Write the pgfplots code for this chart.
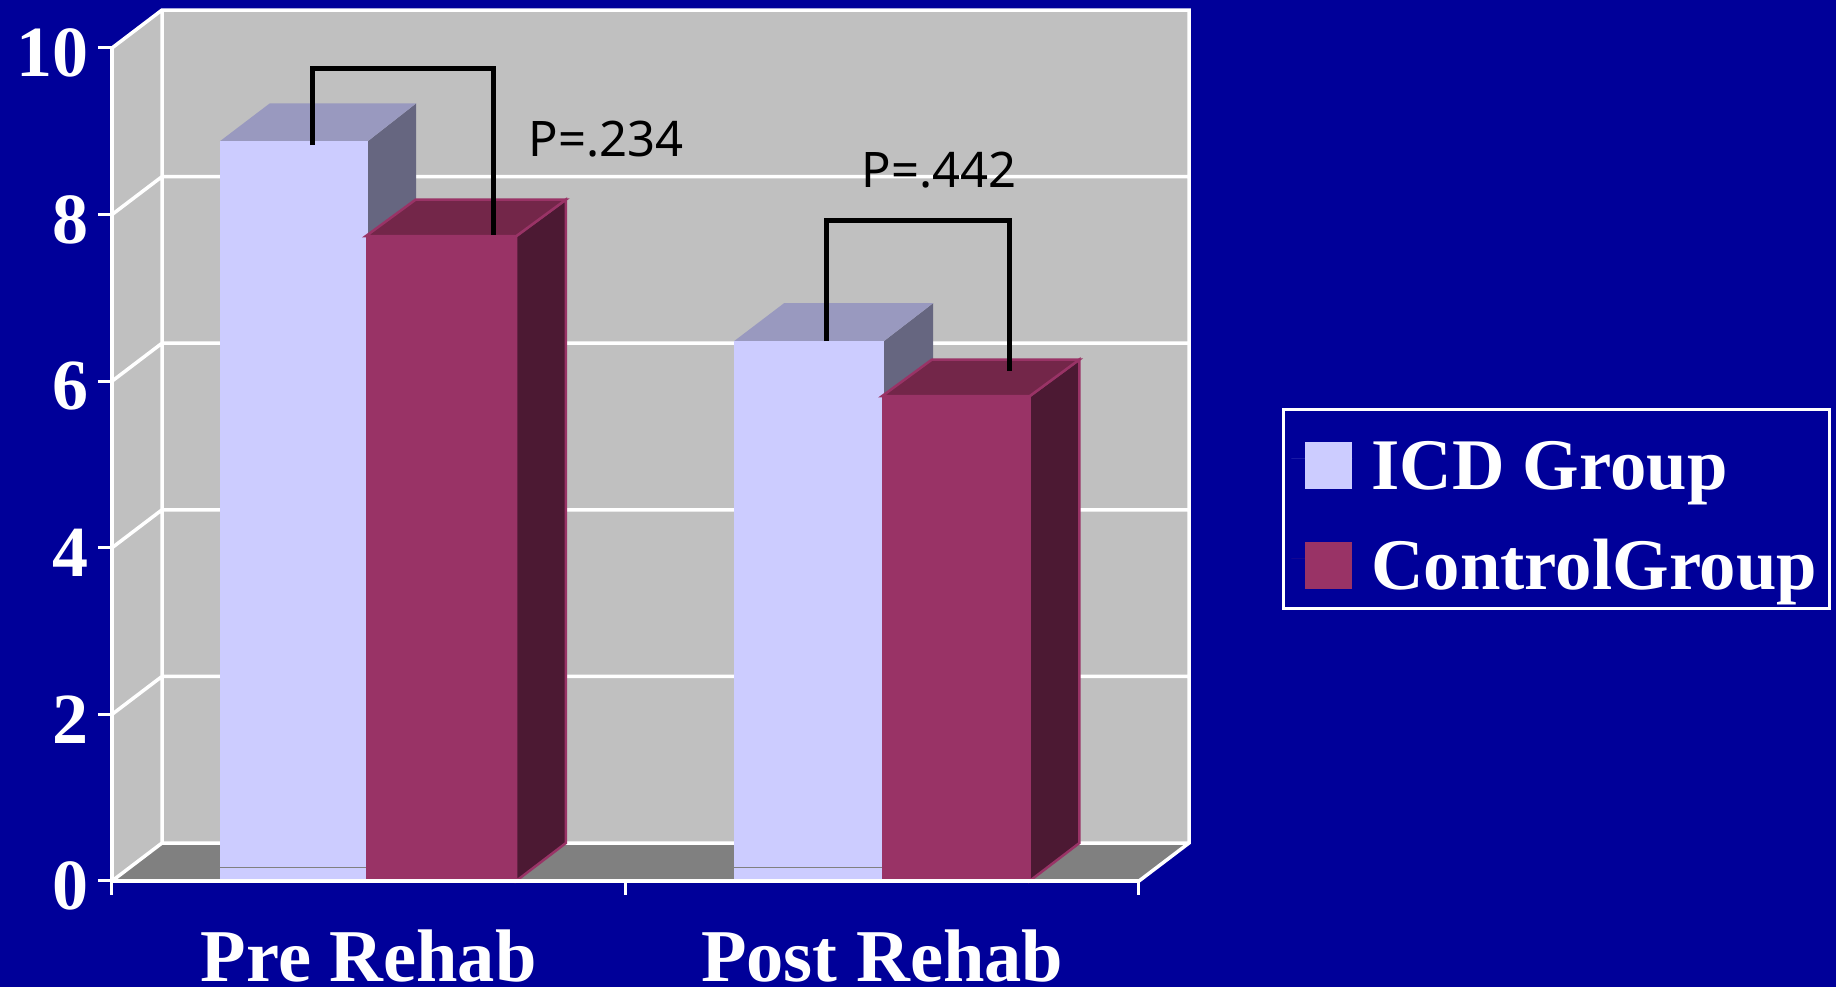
\documentclass[border=0pt]{standalone}
\usepackage{fontspec}
\setmainfont{Liberation Serif}
\newfontfamily\pfont{Noto Sans}
\usepackage{pgfplots}
\pgfplotsset{compat=1.18}

\definecolor{bg}{HTML}{000099}
\definecolor{wall}{HTML}{C0C0C0}
\definecolor{floorc}{HTML}{808080}
\definecolor{icd}{HTML}{CCCCFF}
\definecolor{icdtop}{HTML}{9999BF}
\definecolor{icdside}{HTML}{666680}
\definecolor{ctrl}{HTML}{993366}
\definecolor{ctrltop}{HTML}{732649}
\definecolor{ctrlside}{HTML}{4C1933}

\begin{document}
\begin{tikzpicture}
\path[use as bounding box, fill=bg] (-112pt,-106pt) rectangle (1724pt,881pt);
\begin{axis}[
  at={(0pt,0pt)}, anchor=origin,
  scale only axis,
  width=1027pt, height=833pt,
  xmin=0, xmax=2, ymin=0, ymax=10,
  clip=false,
  axis on top,
  axis lines=left,
  axis line style={white, line width=3.5pt, -},
  xtick={0.5,1.5},
  xticklabels={Pre Rehab,Post Rehab},
  minor xtick={0,1,2},
  ytick={0,2,4,6,8,10},
  tick align=outside,
  major tick length=14pt,
  minor tick length=14pt,
  tick style={white, line width=3pt},
  major x tick style={draw=none},
  xticklabel style={anchor=base, inner sep=0pt, yshift=-87pt, text=white,
    font=\fontsize{74.5}{75}\selectfont\bfseries},
  yticklabel style={anchor=east, inner sep=0pt, xshift=-9pt, yshift=-5pt, text=white,
    font=\fontsize{72}{72}\selectfont\bfseries,
    /pgf/number format/assume math mode=true},
  legend cell align=left,
  legend image code/.code={\path (0pt,0pt) -- (61pt,0pt); \fill[#1] (14pt,-30pt) rectangle (61pt,17pt);},
  legend style={
    at={(1.1392,0.5678)}, anchor=north west,
    draw=white, line width=3pt, fill=bg, text=white,
    font=\fontsize{72.7}{73}\selectfont\bfseries,
    column sep=15pt, row sep=17.4pt, inner xsep=8pt, inner ysep=8pt,
    nodes={inner sep=4pt, text height=67.6pt, text depth=7pt},
  },
]
% walls and floor
\addplot[fill=wall, draw=none, forget plot] coordinates {(0.0974,0.456)(2.0974,0.456)(2.0974,10.456)(0.0974,10.456)} -- cycle;
\addplot[fill=wall, draw=none, forget plot] coordinates {(0,0)(0.0974,0.456)(0.0974,10.456)(0,10)} -- cycle;
\addplot[fill=floorc, draw=none, forget plot] coordinates {(0,0)(2,0)(2.0974,0.456)(0.0974,0.456)} -- cycle;
% grid lines
\addplot[white, line width=3.5pt, forget plot, unbounded coords=jump] coordinates {
  (0,2)(0.0974,2.456)(2.0974,2.456) (nan,nan)
  (0,4)(0.0974,4.456)(2.0974,4.456) (nan,nan)
  (0,6)(0.0974,6.456)(2.0974,6.456) (nan,nan)
  (0,8)(0.0974,8.456)(2.0974,8.456) (nan,nan)
  (0,10)(0.0974,10.456)(2.0974,10.456)(2.0974,0.456)(2,0) (nan,nan)
  (0,0)(0.0974,0.456)(0.0974,10.456) (nan,nan)
  (0.0974,0.456)(2.0974,0.456)
};
% Pre Rehab, ICD
\addplot[fill=icdside, draw=none, forget plot] coordinates {(0.498,0)(0.5925,0.456)(0.5925,9.336)(0.498,8.88)} -- cycle;
\addplot[fill=icdtop, draw=none, forget plot] coordinates {(0.21,8.88)(0.498,8.88)(0.5925,9.336)(0.3074,9.336)} -- cycle;
\addplot[fill=icd, draw=none] coordinates {(0.21,0)(0.498,0)(0.498,8.88)(0.21,8.88)} -- cycle;
\addlegendentry{ICD Group}
\addplot[floorc, line width=1pt, forget plot] coordinates {(0.21,0.168)(0.498,0.168)};
% Pre Rehab, control
\addplot[fill=ctrlside, draw=ctrl, line width=2.5pt, forget plot] coordinates {(0.787,0)(0.884,0.456)(0.884,8.18)(0.787,7.74)} -- cycle;
\addplot[fill=ctrltop, draw=ctrl, line width=2.5pt, forget plot] coordinates {(0.494,7.74)(0.787,7.74)(0.884,8.18)(0.5914,8.18)} -- cycle;
\addplot[fill=ctrl, draw=none] coordinates {(0.494,0)(0.787,0)(0.787,7.74)(0.494,7.74)} -- cycle;
\addlegendentry{ControlGroup}
% Post Rehab, ICD
\addplot[fill=icdside, draw=none, forget plot] coordinates {(1.503,0)(1.599,0.456)(1.599,6.936)(1.503,6.48)} -- cycle;
\addplot[fill=icdtop, draw=none, forget plot] coordinates {(1.2113,6.48)(1.503,6.48)(1.599,6.936)(1.3087,6.936)} -- cycle;
\addplot[fill=icd, draw=none, forget plot] coordinates {(1.2113,0)(1.503,0)(1.503,6.48)(1.2113,6.48)} -- cycle;
\addplot[floorc, line width=1pt, forget plot] coordinates {(1.2113,0.168)(1.503,0.168)};
% Post Rehab, control
\addplot[fill=ctrlside, draw=ctrl, line width=2.5pt, forget plot] coordinates {(1.787,0)(1.884,0.456)(1.884,6.26)(1.787,5.82)} -- cycle;
\addplot[fill=ctrltop, draw=ctrl, line width=2.5pt, forget plot] coordinates {(1.4995,5.82)(1.787,5.82)(1.884,6.26)(1.5969,6.26)} -- cycle;
\addplot[fill=ctrl, draw=none, forget plot] coordinates {(1.4995,0)(1.787,0)(1.787,5.82)(1.4995,5.82)} -- cycle;
% significance brackets
\addplot[black, line width=5pt, forget plot] coordinates {(0.3914,8.835)(0.3914,9.748)(0.7437,9.748)(0.7437,7.755)};
\addplot[black, line width=5pt, forget plot] coordinates {(1.392,6.48)(1.392,7.935)(1.748,7.935)(1.748,6.12)};
\node[anchor=base west, inner sep=0pt, font=\fontsize{49}{49}\selectfont\pfont] at (axis cs:0.811,8.70) {P=.234};
\node[anchor=base west, inner sep=0pt, font=\fontsize{49}{49}\selectfont\pfont] at (axis cs:1.459,8.33) {P=.442};
\end{axis}
\end{tikzpicture}
\end{document}
